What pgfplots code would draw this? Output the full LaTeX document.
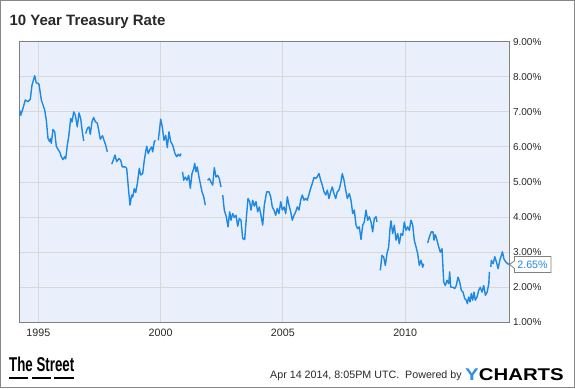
\documentclass[border=0pt]{standalone}
\usepackage{pgfplots}
\pgfplotsset{compat=1.18}
\usepackage{pgfplotstable}
\usepackage{fontspec}
\setmainfont{Liberation Sans}
\definecolor{linec}{RGB}{30,136,229}
\definecolor{bgc}{RGB}{234,240,251}
\definecolor{gridc}{RGB}{216,216,216}
\definecolor{boxc}{RGB}{128,128,128}
\definecolor{framec}{RGB}{136,136,136}
\definecolor{txtc}{RGB}{40,40,40}
\definecolor{ylogo}{RGB}{47,143,224}

\pgfplotstableread{
x y
1994.235 7.05
1994.276 6.90
1994.370 7.10
1994.464 7.34
1994.575 7.29
1994.669 7.36
1994.738 7.76
1994.849 8.03
1994.914 7.83
1995.025 7.79
1995.119 7.34
1995.258 7.05
1995.323 6.77
1995.393 6.24
1995.462 6.15
1995.503 6.24
1995.528 6.10
1995.597 6.50
1995.667 6.43
1995.732 6.02
1995.802 5.93
1995.871 5.86
1995.937 5.72
1996.006 5.64
1996.076 5.72
1996.117 5.66
1996.182 6.05
1996.239 6.29
1996.321 6.81
1996.374 6.71
1996.444 7.00
1996.509 6.91
1996.591 6.57
1996.661 6.97
1996.730 6.81
1996.796 6.43
1996.853 6.17
1996.89 nan
1996.935 6.38
1997.000 6.53
1997.070 6.57
1997.123 6.36
1997.192 6.72
1997.262 6.84
1997.327 6.72
1997.409 6.68
1997.466 6.48
1997.532 6.22
1997.622 6.32
1997.683 6.19
1997.753 6.05
1997.818 5.86
1997.90 nan
1997.998 5.51
1998.063 5.62
1998.133 5.77
1998.202 5.58
1998.297 5.67
1998.366 5.62
1998.431 5.43
1998.542 5.43
1998.611 5.39
1998.677 4.86
1998.746 4.34
1998.816 4.63
1998.857 4.57
1998.922 4.81
1998.980 4.70
1999.045 4.95
1999.127 5.39
1999.184 5.20
1999.266 5.24
1999.331 5.62
1999.429 6.02
1999.495 5.81
1999.564 5.93
1999.634 6.00
1999.675 5.86
1999.740 6.15
1999.789 6.19
1999.85 nan
1999.904 6.19
2000.002 6.79
2000.067 6.57
2000.137 6.19
2000.207 6.33
2000.272 5.98
2000.341 6.43
2000.411 6.15
2000.493 6.05
2000.587 5.81
2000.656 5.72
2000.722 5.79
2000.791 5.74
2000.832 5.81
2000.86 nan
2000.894 5.29
2000.943 5.05
2001.008 5.14
2001.078 5.05
2001.147 5.19
2001.213 4.82
2001.282 5.24
2001.352 5.38
2001.393 5.53
2001.446 5.29
2001.499 5.43
2001.556 5.19
2001.622 4.96
2001.691 4.72
2001.761 4.58
2001.826 4.34
2001.87 nan
2001.924 5.05
2001.990 5.10
2002.059 5.00
2002.129 4.91
2002.194 5.41
2002.264 5.14
2002.333 5.19
2002.399 5.10
2002.468 4.86
2002.50 nan
2002.538 4.63
2002.603 4.20
2002.685 4.01
2002.755 3.72
2002.824 4.15
2002.877 3.91
2002.947 4.10
2003.012 3.99
2003.082 4.05
2003.151 3.74
2003.217 3.96
2003.286 3.91
2003.356 3.39
2003.438 3.36
2003.503 3.96
2003.573 4.53
2003.642 4.44
2003.695 4.20
2003.765 4.48
2003.830 4.31
2003.900 4.44
2003.969 4.15
2004.035 4.29
2004.104 4.05
2004.174 3.77
2004.239 4.34
2004.337 4.72
2004.431 4.72
2004.501 4.58
2004.566 4.29
2004.636 4.20
2004.705 4.05
2004.771 4.25
2004.840 4.10
2004.910 4.44
2004.975 4.20
2005.045 4.29
2005.115 4.10
2005.180 4.58
2005.249 4.34
2005.319 4.15
2005.384 3.91
2005.454 4.05
2005.524 4.15
2005.589 4.29
2005.658 4.20
2005.728 4.48
2005.793 4.63
2005.863 4.48
2005.933 4.53
2005.998 4.48
2006.067 4.65
2006.137 4.82
2006.202 4.96
2006.272 5.13
2006.341 5.10
2006.407 5.15
2006.476 5.24
2006.546 5.05
2006.611 4.91
2006.681 4.72
2006.751 4.63
2006.816 4.77
2006.885 4.53
2006.955 4.72
2007.020 4.86
2007.090 4.67
2007.160 4.53
2007.225 4.72
2007.294 4.77
2007.364 4.96
2007.429 5.24
2007.499 5.05
2007.569 4.77
2007.634 4.53
2007.716 4.67
2007.785 4.48
2007.855 4.10
2007.920 4.20
2007.990 3.77
2008.059 3.67
2008.125 3.72
2008.194 3.36
2008.264 3.77
2008.329 3.86
2008.399 4.20
2008.468 3.91
2008.534 4.01
2008.603 3.86
2008.673 3.58
2008.738 3.96
2008.808 4.01
2008.849 3.86
2008.92 nan
2008.984 2.48
2009.053 2.91
2009.123 2.86
2009.188 2.62
2009.258 2.96
2009.327 3.15
2009.380 3.67
2009.421 3.89
2009.491 3.53
2009.556 3.77
2009.626 3.34
2009.695 3.53
2009.761 3.24
2009.830 3.53
2009.900 3.48
2009.965 3.86
2010.035 3.62
2010.104 3.72
2010.170 3.62
2010.239 3.91
2010.309 3.77
2010.374 3.34
2010.444 3.15
2010.513 2.96
2010.579 2.62
2010.648 2.77
2010.718 2.57
2010.759 2.67
2010.84 nan
2010.922 3.26
2010.988 3.43
2011.070 3.58
2011.139 3.58
2011.180 3.34
2011.233 3.50
2011.303 3.34
2011.372 3.15
2011.438 3.00
2011.507 3.10
2011.577 2.15
2011.642 2.05
2011.712 2.20
2011.781 2.10
2011.822 2.44
2011.863 2.00
2011.957 2.00
2012.027 1.96
2012.092 2.05
2012.162 2.29
2012.231 2.15
2012.297 1.91
2012.366 1.86
2012.436 1.68
2012.501 1.63
2012.542 1.53
2012.599 1.72
2012.653 1.58
2012.706 1.82
2012.763 1.63
2012.816 1.86
2012.869 1.63
2012.939 1.72
2013.008 1.91
2013.074 2.00
2013.143 1.86
2013.213 2.05
2013.282 1.77
2013.352 1.86
2013.421 2.10
2013.446 2.44
2013.475 nan
2013.503 2.58
2013.528 2.77
2013.599 2.67
2013.667 2.87
2013.732 2.72
2013.802 2.53
2013.871 2.77
2013.937 2.91
2013.978 3.01
2014.043 2.80
2014.116 2.72
2014.186 2.67
2014.268 2.65
}\treasury

\begin{document}
\begin{tikzpicture}[x=1pt,y=1pt]
\path[use as bounding box] (0,0) rectangle (575,388);
\draw[framec, line width=1.2pt] (0.8,0.8) rectangle (574.2,387.2);
\node[anchor=base west, inner sep=0, text=txtc, font=\fontsize{15}{18}\selectfont\bfseries] at (9.3,362) {10 Year Treasury Rate};
\begin{axis}[
  at={(19.4pt,65.7pt)}, anchor=south west,
  scale only axis, width=490.1pt, height=280.6pt,
  xmin=1994.223, xmax=2014.268, ymin=1, ymax=9,
  xtick={1995,2000,2005,2010}, xticklabels={1995,2000,2005,2010},
  ytick={1,2,3,4,5,6,7,8,9},
  yticklabels={1.00\%,2.00\%,3.00\%,4.00\%,5.00\%,6.00\%,7.00\%,8.00\%,9.00\%},
  yticklabel pos=right,
  major tick length=0pt,
  grid=major,
  major grid style={gridc, line width=0.9pt},
  axis background/.style={fill=bgc},
  axis line style={boxc, line width=0.9pt},
  /pgf/number format/assume math mode=true,
  ticklabel style={text=txtc},
  xticklabel style={font=\fontsize{10.7}{12}\selectfont, yshift=-3pt},
  yticklabel style={font=\fontsize{10}{12}\selectfont},
  unbounded coords=jump,
]
\addplot[linec, line width=1.4pt, line join=round, no markers] table[x=x,y=y] {\treasury};
\coordinate (endpt) at (axis cs:2014.268,2.65);
\end{axis}
\draw[boxc, fill=white, line width=0.8pt] (endpt) -- ++(5,3.5) -- ++(0,4.5) -- ++(36.5,0) -- ++(0,-16) -- ++(-36.5,0) -- ++(0,4) -- cycle;
\node[text=linec, font=\fontsize{10.7}{12}\selectfont, inner sep=0] at ([xshift=23pt]endpt) {2.65\%};
% footer
\node[anchor=base west, inner sep=0, font=\fontsize{20}{22}\selectfont\bfseries] at (9,16.3) {\scalebox{0.665}[1]{The Street}};
\fill (9.2,9) rectangle (27.5,11);
\fill (31.9,9) rectangle (50.6,11);
\fill (54.3,9) rectangle (74.1,11);
\node[anchor=base west, inner sep=0, text=txtc, font=\fontsize{10.7}{12}\selectfont] at (270,9.3) {Apr 14 2014, 8:05PM UTC.\ \ Powered by};
\node[anchor=base west, inner sep=0, font=\fontsize{17}{19}\selectfont\bfseries] at (465,8) {\scalebox{1.2}[1]{\textcolor{ylogo}{Y}CHARTS}};
\end{tikzpicture}
\end{document}
